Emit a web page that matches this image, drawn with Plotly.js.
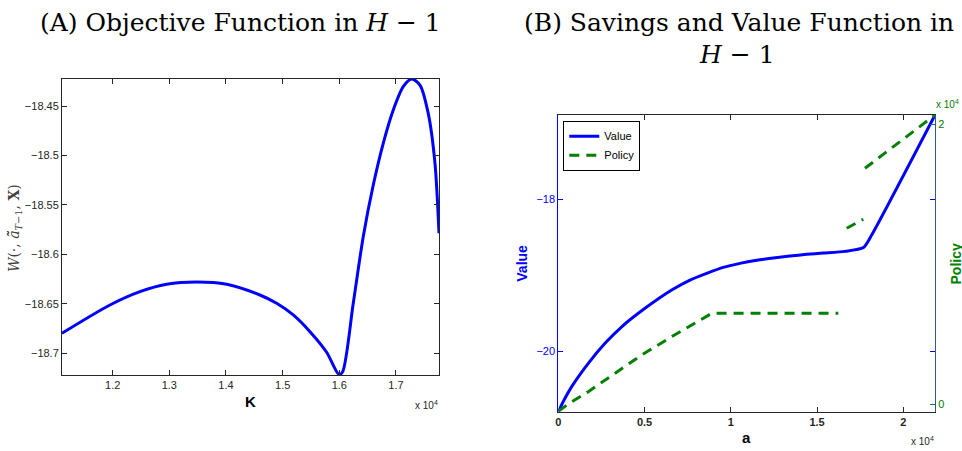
<!DOCTYPE html>
<html><head><meta charset="utf-8">
<script src="https://cdn.plot.ly/plotly-3.0.1.min.js"></script>
<style>html,body{margin:0;padding:0;background:#fff}#chart{width:962px;height:451px}</style>
</head><body><div id="chart"></div>
<script>
// Panel A: objective function
const capitalK = [11106, 11952, 12482, 12953, 13482, 14012, 14599, 14894, 15187, 15482, 15776, 15993, 16059, 16246, 16422, 16599, 16775, 16952, 17128, 17276, 17423, 17569, 17688, 17759];
const objectiveW = [-18.6798, -18.6512, -18.6377, -18.6302, -18.6279, -18.6302, -18.6411, -18.6495, -18.6613, -18.6782, -18.6990, -18.7215, -18.7186, -18.6495, -18.5821, -18.5299, -18.4877, -18.454, -18.4304, -18.4227, -18.4288, -18.4574, -18.508, -18.5787];
const kTickVals = [12000, 13000, 14000, 15000, 16000, 17000];
const kTickText = ['1.2', '1.3', '1.4', '1.5', '1.6', '1.7'];
const wTickVals = [-18.45, -18.5, -18.55, -18.6, -18.65, -18.7];
const wTickText = ['\u221218.45', '\u221218.5', '\u221218.55', '\u221218.6', '\u221218.65', '\u221218.7'];

// Panel B: value and savings policy
const assetsValue = [0, 350, 777, 1739, 2707, 3675, 5026, 6574, 7635, 8603, 9565, 10533, 11501, 12464, 13432, 14400, 15362, 16620, 17690, 18168, 21840];
const valueFn = [-20.80, -20.64, -20.47, -20.163, -19.899, -19.68, -19.437, -19.196, -19.064, -18.976, -18.897, -18.844, -18.804, -18.774, -18.748, -18.725, -18.708, -18.686, -18.636, -18.471, -16.888];
const assetsPolicy = [0, 580, 1739, 3287, 4835, 6574, 7925, 8900, 16232, null, 16719, 17681, null, 17780, 21840];
const policyFn = [-500, 21, 900, 2214, 3521, 4829, 5786, 6500, 6500, null, 12571, 13214, null, 16857, 20660];
const aTickVals = [0, 5000, 10000, 15000, 20000];
const aTickText = ['0', '0.5', '1', '1.5', '2'];
const vTickVals = [-18, -20];
const vTickText = ['\u221218', '\u221220'];
const pTickVals = [0, 20000];
const pTickText = ['0', '2'];

const W = 962, H = 451;
const px = v => v / W;
const py = v => 1 - v / H;
const AX = '#262626';
const BLUE = '#0000ff';
const GREEN = '#008000';
const sans = 'Liberation Sans, Arial, sans-serif';
const serif = 'DejaVu Serif, serif';

const traces = [
  {x: capitalK, y: objectiveW, xaxis: 'x', yaxis: 'y', mode: 'lines', showlegend: false,
   line: {color: BLUE, width: 3, shape: 'spline', smoothing: 0.8}},
  {x: assetsValue, y: valueFn, xaxis: 'x2', yaxis: 'y2', mode: 'lines', name: 'Value',
   line: {color: BLUE, width: 3, shape: 'spline', smoothing: 0.6}},
  {x: assetsPolicy, y: policyFn, xaxis: 'x2', yaxis: 'y3', mode: 'lines', name: 'Policy',
   connectgaps: false, line: {color: GREEN, width: 3, dash: '10px,7px'}}
];

const baseAxis = {showgrid: false, zeroline: false, showline: true, linewidth: 1, linecolor: AX,
  ticks: 'inside', ticklen: 5, tickcolor: AX, tickmode: 'array',
  tickfont: {family: sans, size: 11, color: AX}};

const ann = (text, x, y, opts) => Object.assign({text, x: px(x), y: py(y), xref: 'paper', yref: 'paper',
  showarrow: false, xanchor: 'center', yanchor: 'middle'}, opts || {});

const layout = {
  width: W, height: H, margin: {l: 0, r: 0, t: 0, b: 0},
  paper_bgcolor: '#fff', plot_bgcolor: '#fff',
  xaxis: Object.assign({}, baseAxis, {domain: [px(62), px(439)], range: [11106, 17759], anchor: 'y',
    mirror: 'ticks', tickvals: kTickVals, ticktext: kTickText}),
  yaxis: Object.assign({}, baseAxis, {domain: [py(375), py(79)], range: [-18.722, -18.4227], anchor: 'x',
    mirror: 'ticks', tickvals: wTickVals, ticktext: wTickText}),
  xaxis2: Object.assign({}, baseAxis, {domain: [px(558.3), px(935)], range: [0, 21840], anchor: 'y2',
    mirror: 'ticks', tickvals: aTickVals, ticktext: aTickText,
    tickfont: {family: sans, size: 11, color: AX, weight: 'bold'}}),
  yaxis2: Object.assign({}, baseAxis, {domain: [py(411.7), py(115)], range: [-20.80, -16.888], anchor: 'x2',
    mirror: 'ticks', linecolor: BLUE, tickcolor: BLUE, tickvals: vTickVals, ticktext: vTickText,
    tickfont: {family: sans, size: 11, color: BLUE}}),
  yaxis3: Object.assign({}, baseAxis, {overlaying: 'y2', side: 'right', anchor: 'x2', range: [-530, 20660],
    linecolor: '#2c5d86', tickcolor: '#2c5d86', tickvals: pTickVals, ticktext: pTickText,
    tickfont: {family: sans, size: 11, color: GREEN}}),
  legend: {x: px(563.3), y: py(120.7), xanchor: 'left', yanchor: 'top', bgcolor: '#fff',
    bordercolor: '#000', borderwidth: 1, font: {family: sans, size: 11, color: '#000'}, tracegroupgap: 0},
  annotations: [
    ann('(A) Objective Function in <i>H</i> \u2212 1', 240, 22, {font: {family: serif, size: 25, color: '#000'}}),
    ann('(B) Savings and Value Function in', 738.5, 22, {font: {family: serif, size: 25, color: '#000'}}),
    ann('<i>H</i> \u2212 1', 737, 54, {font: {family: serif, size: 25, color: '#000'}}),
    ann('<i>W</i>(\u00b7, <i>a\u0303\u0303</i><sub><i>T</i>\u22121</sub>, <b>X</b>)', 15, 228,
        {textangle: -90, font: {family: serif, size: 14, color: '#404040'}}),
    ann('<b>K</b>', 250, 401, {font: {family: sans, size: 15, color: '#000'}}),
    ann('<b>a</b>', 746, 437, {font: {family: sans, size: 15, color: '#000'}}),
    ann('<b>Value</b>', 521.7, 263, {textangle: -90, font: {family: sans, size: 14, color: BLUE}}),
    ann('<b>Policy</b>', 955.5, 264, {textangle: -90, font: {family: sans, size: 14, color: GREEN}}),
    ann('x 10<sup>4</sup>', 440, 405, {xanchor: 'right', font: {family: sans, size: 10, color: AX}}),
    ann('x 10<sup>4</sup>', 936, 441, {xanchor: 'right', font: {family: sans, size: 10, color: AX}}),
    ann('x 10<sup>4</sup>', 934, 104, {xanchor: 'left', font: {family: sans, size: 10, color: GREEN}})
  ]
};

Plotly.newPlot('chart', traces, layout, {staticPlot: true, displayModeBar: false});
</script>
</body></html>
